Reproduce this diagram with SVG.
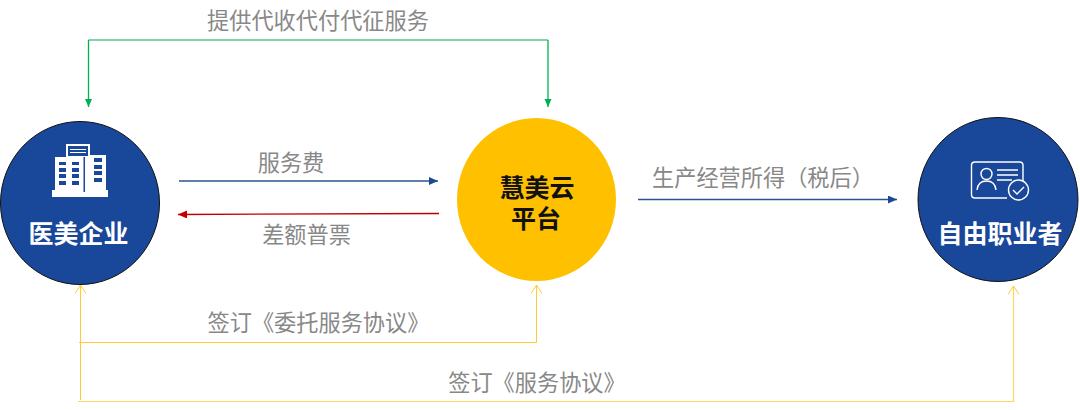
<svg xmlns="http://www.w3.org/2000/svg" width="1080" height="410" viewBox="0 0 1080 410">
<style>
.l{font-family:"Noto Sans CJK SC","Liberation Sans",sans-serif;font-size:22.200px;fill:#888;text-anchor:middle}
.n{font-family:"Noto Sans CJK SC","Liberation Sans",sans-serif;font-size:25px;font-weight:700;fill:#fff;text-anchor:middle}
.c{fill:none;stroke-width:1.300}
.g{stroke:#00b050}.g2{stroke:#5cc290}.b{stroke:#2a558f}.r{stroke:#c00000}.y{stroke:#ffcb33;stroke-width:1}.y2{stroke:#ffd568;stroke-width:1.200}
.ic{fill:none;stroke:#fff;stroke-width:1.400}
</style>
<defs>
<marker id="ag" markerWidth="8" markerHeight="8" refX="8" refY="4" orient="auto" markerUnits="userSpaceOnUse"><path d="M0,0.500L8,4L0,7.500Z" fill="#00b050"/></marker>
<marker id="ab" markerWidth="9" markerHeight="8" refX="9" refY="4" orient="auto" markerUnits="userSpaceOnUse"><path d="M0,0L9,4L0,8Z" fill="#1a4a96"/></marker>
<marker id="ar" markerWidth="9" markerHeight="8" refX="9" refY="4" orient="auto" markerUnits="userSpaceOnUse"><path d="M0,0L9,4L0,8Z" fill="#c00000"/></marker>
<marker id="ay" markerWidth="10" markerHeight="12" refX="9" refY="6" orient="auto" markerUnits="userSpaceOnUse"><path d="M0.500,0.500L9,6L0.500,11.500" fill="none" stroke="#ffcb33" stroke-width="1"/></marker>
</defs>
<g id="connectors">
<path class="c g2" d="M88.500,40H548"/>
<path class="c g" d="M88.500,40V107" marker-end="url(#ag)"/>
<path class="c g" d="M548,40V107" marker-end="url(#ag)"/>
<path class="c b" d="M179,181H438" marker-end="url(#ab)"/>
<path class="c r" d="M439,213.500L178,214.500" marker-end="url(#ar)"/>
<path class="c b" d="M638,199.500H897" marker-end="url(#ab)"/>
<path class="c y" d="M80.500,400V285" marker-end="url(#ay)"/>
<path class="c y" d="M79,342.500H536.500V285" marker-end="url(#ay)"/>
<path class="c y2" d="M78,401.500H1013.500V286" marker-end="url(#ay)"/>
</g>
<g id="labels">
<text class="l" x="318" y="29">提供代收代付代征服务</text>
<text class="l" x="291" y="171">服务费</text>
<text class="l" x="306.500" y="243">差额普票</text>
<text class="l" x="763" y="186">生产经营所得（税后）</text>
<text class="l" x="318.500" y="331">签订《委托服务协议》</text>
<text class="l" x="537" y="391">签订《服务协议》</text>
</g>
<g id="node-yimei">
<ellipse cx="80" cy="203" rx="79.500" ry="81.500" fill="#19479a" stroke="#111" stroke-width="1"/>
<path fill="#fff" fill-rule="evenodd" d="M66,144H90V155H106V190H108V197H52V190H55V157H66ZM68,146V156H88V146ZM70,149H86V150H70ZM70,152H86V153H70ZM59,162V165H66V162ZM72,162V165H79V162ZM59,168V172H66V168ZM72,168V172H79V168ZM59,174V178H66V174ZM72,174V178H79V174ZM59,181V185H66V181ZM72,181V185H79V181ZM94,158V162H102V158ZM94,165V169H102V165ZM94,171V175H102V171ZM94,178V182H102V178ZM83.500,157V192H85V157Z"/>
<text class="n" x="78.500" y="243">医美企业</text>
</g>
<g id="node-platform">
<ellipse cx="536.500" cy="199.500" rx="79.500" ry="81.500" fill="#ffc000"/>
<text class="n" style="fill:#111"><tspan x="537" y="197">慧美云</tspan><tspan x="536" y="228">平台</tspan></text>
</g>
<g id="node-freelancer">
<ellipse cx="998" cy="199.500" rx="80" ry="82" fill="#19479a" stroke="#111" stroke-width="1"/>
<path class="ic" d="M1007,198H975Q971.500,198 971.500,194.500V165.500Q971.500,162 975,162H1019.500Q1023,162 1023,165.500V181"/>
<circle class="ic" cx="986.500" cy="174" r="5.500"/>
<path class="ic" d="M977,190Q978,181 986.500,181Q995,181 996,190"/>
<path class="ic" d="M997,170H1018M997,175H1018M997,180H1012"/>
<circle class="ic" cx="1018.500" cy="190" r="10"/>
<path class="ic" d="M1013,190L1017,194L1024,187"/>
<text class="n" x="1000" y="243">自由职业者</text>
</g>
</svg>
